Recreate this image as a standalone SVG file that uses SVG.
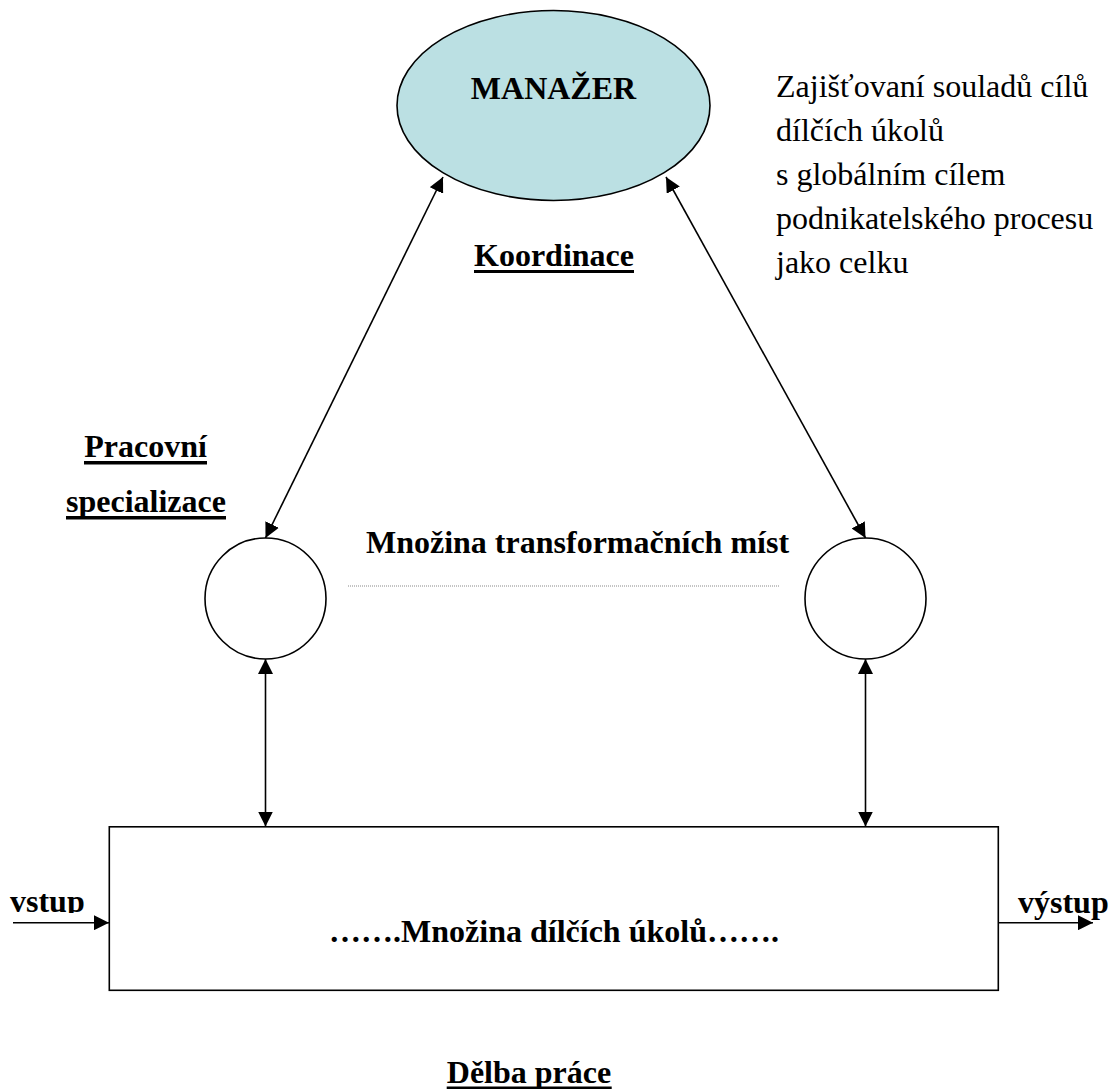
<svg xmlns="http://www.w3.org/2000/svg" width="1112" height="1089" viewBox="0 0 1112 1089">
  <style>
    text { font-family: "Liberation Serif", "Times New Roman", serif; font-size: 32px; fill: #000; }
    .b { font-weight: bold; }
    .c { text-anchor: middle; }
    .node { fill: #fff; stroke: #000; stroke-width: 1.6; }
    .edge { fill: none; stroke: #000; stroke-width: 1.6; }
    .ul { fill: #000; }
  </style>
  <defs>
    <marker id="arrow" viewBox="0 0 15 15" refX="15" refY="7.5" markerWidth="15" markerHeight="15" markerUnits="userSpaceOnUse" orient="auto-start-reverse">
      <path d="M0,0 L15,7.5 L0,15 Z" fill="#000"/>
    </marker>
    <clipPath id="clipIn">
      <rect x="0" y="0" width="109" height="913"/>
    </clipPath>
  </defs>

  <rect width="1112" height="1089" fill="#fff"/>

  <!-- manager -->
  <g id="manazer">
    <ellipse cx="553.5" cy="105.5" rx="156.5" ry="95" fill="#bbe0e3" stroke="#000" stroke-width="1.6"/>
    <text class="b c" x="553.5" y="99">MANAŽER</text>
  </g>

  <!-- goal note -->
  <g id="poznamka">
    <text x="776" y="97">Zajišťovaní souladů cílů</text>
    <text x="776" y="141">dílčích úkolů</text>
    <text x="776" y="185">s globálním cílem</text>
    <text x="776" y="229">podnikatelského procesu</text>
    <text x="776" y="273">jako celku</text>
  </g>

  <g id="koordinace">
    <text class="b c" x="554" y="266">Koordinace</text>
    <rect class="ul" x="474" y="270" width="160" height="3"/>
  </g>

  <g id="specializace">
    <text class="b c" x="145.5" y="457">Pracovní</text>
    <rect class="ul" x="84" y="461" width="123" height="3.5"/>
    <text class="b c" x="146" y="511.5">specializace</text>
    <rect class="ul" x="66" y="516" width="160" height="3.5"/>
  </g>

  <!-- transformation places -->
  <g id="misto1">
    <circle class="node" cx="265.5" cy="598.5" r="60.5"/>
  </g>
  <g id="misto2">
    <circle class="node" cx="865.5" cy="598.5" r="60.5"/>
  </g>
  <g id="mnozina-mist">
    <text class="b c" x="577.5" y="553">Množina transformačních míst</text>
    <line x1="348" y1="586" x2="780" y2="586" stroke="#888" stroke-width="1" stroke-dasharray="1 1"/>
  </g>

  <!-- subtasks -->
  <g id="ukoly">
    <rect class="node" x="109.3" y="826.8" width="889" height="163.5"/>
    <text class="b c" x="554" y="942">…….Množina dílčích úkolů…….</text>
  </g>

  <g id="vstup">
    <text class="b" x="10" y="912" clip-path="url(#clipIn)">vstup</text>
  </g>
  <g id="vystup">
    <text class="b" x="1018" y="913">výstup</text>
  </g>

  <g id="delba">
    <text class="b c" x="529" y="1083">Dělba práce</text>
    <rect class="ul" x="446.7" y="1086.5" width="165" height="4"/>
  </g>

  <!-- connectors -->
  <g id="connectors">
    <line class="edge" x1="443" y1="177" x2="265.5" y2="538" marker-start="url(#arrow)" marker-end="url(#arrow)"/>
    <line class="edge" x1="666" y1="177" x2="865.5" y2="538" marker-start="url(#arrow)" marker-end="url(#arrow)"/>
    <line class="edge" x1="265.5" y1="659" x2="265.5" y2="826.5" marker-start="url(#arrow)" marker-end="url(#arrow)"/>
    <line class="edge" x1="865.5" y1="659" x2="865.5" y2="826.5" marker-start="url(#arrow)" marker-end="url(#arrow)"/>
    <line class="edge" x1="13" y1="922.7" x2="109" y2="922.7" marker-end="url(#arrow)"/>
    <line class="edge" x1="998.3" y1="922.7" x2="1093" y2="922.7" marker-end="url(#arrow)"/>
  </g>
</svg>
